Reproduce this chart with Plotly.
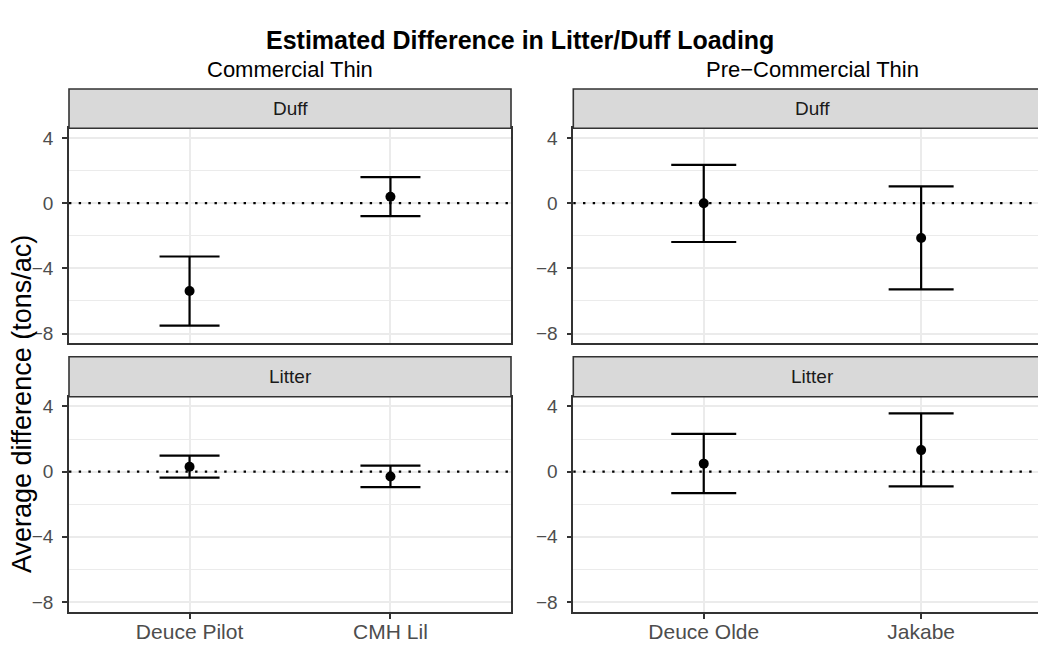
import plotly.graph_objects as go

# Sites per treatment
ct_sites = ["Deuce Pilot", "CMH Lil"]
pct_sites = ["Deuce Olde", "Jakabe"]

# Commercial thin estimates (tons/ac)
ct_duff_mean = [-5.39, 0.40]
ct_duff_lo = [-7.52, -0.79]
ct_duff_hi = [-3.27, 1.60]
ct_litter_mean = [0.30, -0.30]
ct_litter_lo = [-0.37, -0.95]
ct_litter_hi = [0.98, 0.37]

# Pre-commercial thin estimates (tons/ac)
pct_duff_mean = [0.00, -2.13]
pct_duff_lo = [-2.38, -5.29]
pct_duff_hi = [2.35, 1.04]
pct_litter_mean = [0.49, 1.32]
pct_litter_lo = [-1.32, -0.91]
pct_litter_hi = [2.32, 3.58]

y_ticks = [-8, -4, 0, 4]
y_minor = [-6, -2, 2]
y_ticktext = ["\u22128", "\u22124", "0", "4"]

W, H = 1038, 646
FONT = "Liberation Sans"
DARK = "#333333"
GRID = "#EBEBEB"
TICKC = "#4D4D4D"


def px(v):
    return v / W


def py(v):
    return 1 - v / H


fig = go.Figure()

panels = [
    # (xaxis, yaxis, sites, mean, lo, hi, cap half-width px)
    ("x", "y", ct_sites, ct_duff_mean, ct_duff_lo, ct_duff_hi, 30),
    ("x2", "y2", pct_sites, pct_duff_mean, pct_duff_lo, pct_duff_hi, 32.5),
    ("x3", "y3", ct_sites, ct_litter_mean, ct_litter_lo, ct_litter_hi, 30),
    ("x4", "y4", pct_sites, pct_litter_mean, pct_litter_lo, pct_litter_hi, 32.5),
]

for xa, ya, sites, mean, lo, hi, cap in panels:
    fig.add_trace(go.Scatter(
        x=sites, y=mean, xaxis=xa, yaxis=ya, mode="markers",
        marker=dict(color="black", size=10),
        error_y=dict(type="data", symmetric=False,
                     array=[h - m for h, m in zip(hi, mean)],
                     arrayminus=[m - l for m, l in zip(mean, lo)],
                     color="black", thickness=2.2, width=cap),
        showlegend=False, hoverinfo="skip",
    ))
    # dotted reference line at zero
    fig.add_shape(type="line", xref=f"{xa} domain", yref=ya,
                  x0=0, x1=1, y0=0, y1=0,
                  line=dict(color="black", width=2.2, dash="2.4px,7.3px"),
                  layer="above")

# panel geometry (pixels)
left_x = (69, 511)
right_x = (573.3, 1038)
top_y = (128.3, 343.3)
bot_y = (396.7, 611.7)

xdom_l = [px(left_x[0]), px(left_x[1])]
xdom_r = [px(right_x[0]), 1.0]
ydom_t = [py(top_y[1]), py(top_y[0])]
ydom_b = [py(bot_y[1]), py(bot_y[0])]

right_range = [-0.6, -0.6 + (right_x[1] - right_x[0]) / 217.4]

common_x = dict(type="category", showgrid=True, gridcolor=GRID, gridwidth=1.6,
                showline=True, linecolor=DARK, linewidth=1.6, mirror=True,
                zeroline=False, fixedrange=True, automargin=False)
common_y = dict(range=[-8.6, 4.6], tickvals=y_ticks, ticktext=y_ticktext,
                showgrid=True, gridcolor=GRID, gridwidth=1.6,
                minor=dict(tickvals=y_minor, showgrid=True, gridcolor=GRID,
                           gridwidth=0.9, ticks=""),
                ticks="outside", ticklen=5, tickwidth=1.6, tickcolor=DARK,
                tickfont=dict(family=FONT, size=19, color=TICKC),
                ticklabelstandoff=5,
                showline=True, linecolor=DARK, linewidth=1.6,
                zeroline=False, fixedrange=True, automargin=False)
xtick_style = dict(ticks="outside", ticklen=5, tickwidth=1.6, tickcolor=DARK,
                   tickfont=dict(family=FONT, size=21, color=TICKC),
                   ticklabelstandoff=-5)

fig.update_layout(
    width=W, height=H, autosize=False,
    margin=dict(l=0, r=0, t=0, b=0, autoexpand=False),
    paper_bgcolor="white", plot_bgcolor="white",
    font=dict(family=FONT, color="black"),
    xaxis=dict(common_x, domain=xdom_l, anchor="y", range=[-0.6, 1.6],
               showticklabels=False, ticks=""),
    xaxis2=dict(common_x, domain=xdom_r, anchor="y2", range=right_range,
                showticklabels=False, ticks=""),
    xaxis3=dict(common_x, **xtick_style, domain=xdom_l, anchor="y3",
                range=[-0.6, 1.6]),
    xaxis4=dict(common_x, **xtick_style, domain=xdom_r, anchor="y4",
                range=right_range),
    yaxis=dict(common_y, domain=ydom_t, anchor="x", mirror=True),
    yaxis2=dict(common_y, domain=ydom_t, anchor="x2", mirror=False),
    yaxis3=dict(common_y, domain=ydom_b, anchor="x3", mirror=True),
    yaxis4=dict(common_y, domain=ydom_b, anchor="x4", mirror=False),
)

# facet strips
strips = [
    (left_x[0], left_x[1], 89, top_y[0], "Duff"),
    (right_x[0], 1060, 89, top_y[0], "Duff"),
    (left_x[0], left_x[1], 356.7, bot_y[0], "Litter"),
    (right_x[0], 1060, 356.7, bot_y[0], "Litter"),
]
strip_centers = [(left_x[0] + left_x[1]) / 2, 812]
for i, (x0, x1, y0, y1, label) in enumerate(strips):
    fig.add_shape(type="rect", xref="paper", yref="paper",
                  x0=px(x0), x1=px(x1), y0=py(y1), y1=py(y0),
                  fillcolor="#D9D9D9", line=dict(color=DARK, width=1.6),
                  layer="above")
    fig.add_annotation(xref="paper", yref="paper",
                       x=px(strip_centers[i % 2]), y=py((y0 + y1) / 2),
                       text=label, showarrow=False,
                       xanchor="center", yanchor="middle",
                       font=dict(family=FONT, size=19, color="#1A1A1A"))

# titles
fig.add_annotation(xref="paper", yref="paper", x=px(519.5), y=py(40),
                   text="<b>Estimated Difference in Litter/Duff Loading</b>",
                   showarrow=False, xanchor="center", yanchor="middle",
                   font=dict(family=FONT, size=25, color="black"))
fig.add_annotation(xref="paper", yref="paper", x=px(290), y=py(69),
                   text="Commercial Thin", showarrow=False,
                   xanchor="center", yanchor="middle",
                   font=dict(family=FONT, size=22, color="black"))
fig.add_annotation(xref="paper", yref="paper", x=px(812), y=py(69),
                   text="Pre\u2212Commercial Thin", showarrow=False,
                   xanchor="center", yanchor="middle",
                   font=dict(family=FONT, size=22, color="black"))
fig.add_annotation(xref="paper", yref="paper", x=px(22), y=py(404),
                   text="Average difference (tons/ac)", showarrow=False,
                   textangle=-90, xanchor="center", yanchor="middle",
                   font=dict(family=FONT, size=27, color="black"))

fig.write_html("out.html")
